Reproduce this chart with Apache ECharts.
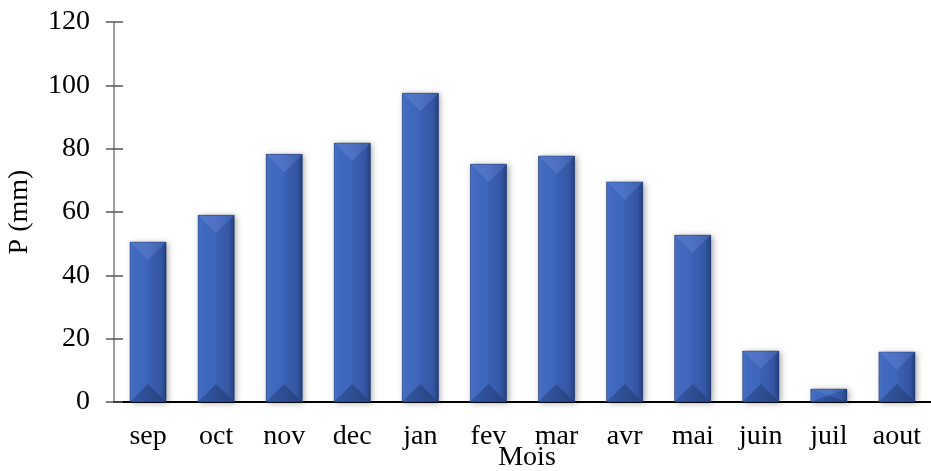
<!DOCTYPE html>
<html>
<head>
<meta charset="utf-8">
<script src="https://cdn.jsdelivr.net/npm/echarts@6/dist/echarts.min.js"></script>
<style>
  html, body { margin: 0; padding: 0; background: #ffffff; }
  #chart { width: 931px; height: 471px; }
</style>
</head>
<body>
<div id="chart"></div>
<script>
// Monthly precipitation (mm), hydrological year September -> August
var months = ['sep', 'oct', 'nov', 'dec', 'jan', 'fev', 'mar', 'avr', 'mai', 'juin', 'juil', 'aout'];
var precipitation = [50.5, 59.0, 78.2, 81.8, 97.5, 75.1, 77.7, 69.5, 52.7, 16.1, 4.1, 15.8];
var yTicks = [0, 20, 40, 60, 80, 100, 120];

var FONT = '"Liberation Serif", "Times New Roman", serif';
var FONT_SIZE = 28;
var BAR_RATIO = 0.53;

var chart = echarts.init(document.getElementById('chart'), null, { renderer: 'canvas' });

// Bevelled column: left/right faces meet at a central ridge, with a
// roof triangle on top and a darker wedge at the base.
function renderBevelBar(params, api) {
  var idx = api.value(0);
  var val = api.value(1);
  var top = api.coord([idx, val]);
  var base = api.coord([idx, 0]);
  var w = api.size([1, 0])[0] * BAR_RATIO;
  var xc = top[0];
  var x0 = xc - w / 2, x1 = xc + w / 2;
  var yt = top[1], yb = base[1];
  var h = yb - yt;
  var b = Math.min(w / 2, h / 2);

  var leftFace = {
    type: 'polygon',
    shape: { points: [[x0, yt], [xc, yt + b], [xc, yb - b], [x0, yb]] },
    style: {
      fill: new echarts.graphic.LinearGradient(0, 0, 1, 0, [
        { offset: 0, color: '#4870c4' },
        { offset: 0.25, color: '#4169bd' },
        { offset: 1, color: '#3d65b9' }
      ])
    }
  };
  var rightFace = {
    type: 'polygon',
    shape: { points: [[xc, yt + b], [x1, yt], [x1, yb], [xc, yb - b]] },
    style: {
      fill: new echarts.graphic.LinearGradient(0, 0, 1, 0, [
        { offset: 0, color: '#3a61b3' },
        { offset: 0.7, color: '#3457a3' },
        { offset: 1, color: '#243f7c' }
      ])
    }
  };
  var roof = {
    type: 'polygon',
    shape: { points: [[x0, yt], [x1, yt], [xc, yt + b]] },
    style: {
      fill: new echarts.graphic.LinearGradient(0, 0, 1, 0, [
        { offset: 0, color: '#5478c8' },
        { offset: 0.5, color: '#4d72c3' },
        { offset: 1, color: '#3e61ac' }
      ])
    }
  };
  var foot = {
    type: 'polygon',
    shape: { points: [[x0, yb], [xc, yb - b], [x1, yb]] },
    style: {
      fill: new echarts.graphic.LinearGradient(0, 0, 1, 0, [
        { offset: 0, color: '#3358a6' },
        { offset: 1, color: '#26437f' }
      ])
    }
  };
  var shadow = {
    type: 'rect',
    shape: { x: x0, y: yt, width: w, height: h },
    style: {
      fill: '#3358a6',
      shadowBlur: 6,
      shadowOffsetX: 2,
      shadowOffsetY: 1,
      shadowColor: 'rgba(0,0,0,0.35)'
    }
  };
  var outline = {
    type: 'rect',
    shape: { x: x0, y: yt, width: w, height: h },
    style: { fill: 'none', stroke: 'rgba(20,40,90,0.5)', lineWidth: 0.8 }
  };
  return {
    type: 'group',
    children: [shadow, leftFace, rightFace, roof, foot, outline]
  };
}

var option = {
  animation: false,
  backgroundColor: '#ffffff',
  grid: { left: 114, right: 0, top: 22, bottom: 69, containLabel: false, outerBoundsMode: 'none' },
  xAxis: {
    type: 'category',
    data: months,
    boundaryGap: true,
    axisLine: { show: true, lineStyle: { color: '#000000', width: 2 } },
    axisTick: { show: false },
    axisLabel: { color: '#000000', fontFamily: FONT, fontSize: FONT_SIZE, margin: 21 }
  },
  yAxis: [
    {
      type: 'value',
      min: yTicks[0],
      max: yTicks[yTicks.length - 1],
      interval: 20,
      name: 'P (mm)',
      nameLocation: 'middle',
      nameGap: 80,
      nameRotate: 90,
      nameTextStyle: { color: '#000000', fontFamily: FONT, fontSize: FONT_SIZE },
      axisLine: { show: true, lineStyle: { color: '#7f7f7f', width: 1.5 } },
      axisTick: { show: true, inside: false, length: 8, lineStyle: { color: '#555555', width: 1.5 } },
      axisLabel: { color: '#000000', fontFamily: FONT, fontSize: FONT_SIZE, margin: 24 },
      splitLine: { show: false }
    },
    {
      type: 'value',
      position: 'left',
      min: yTicks[0],
      max: yTicks[yTicks.length - 1],
      interval: 20,
      axisLine: { show: false },
      axisTick: { show: true, inside: true, length: 9, lineStyle: { color: '#555555', width: 1.5 } },
      axisLabel: { show: false },
      splitLine: { show: false }
    }
  ],
  graphic: [
    {
      type: 'text',
      x: 527,
      y: 458,
      style: {
        text: 'Mois',
        fill: '#000000',
        font: FONT_SIZE + 'px ' + FONT,
        align: 'center',
        verticalAlign: 'middle'
      }
    }
  ],
  series: [
    {
      type: 'custom',
      renderItem: renderBevelBar,
      encode: { x: 0, y: 1 },
      data: precipitation.map(function (v, i) { return [i, v]; }),
      z: 3
    }
  ]
};

chart.setOption(option);
</script>
</body>
</html>
